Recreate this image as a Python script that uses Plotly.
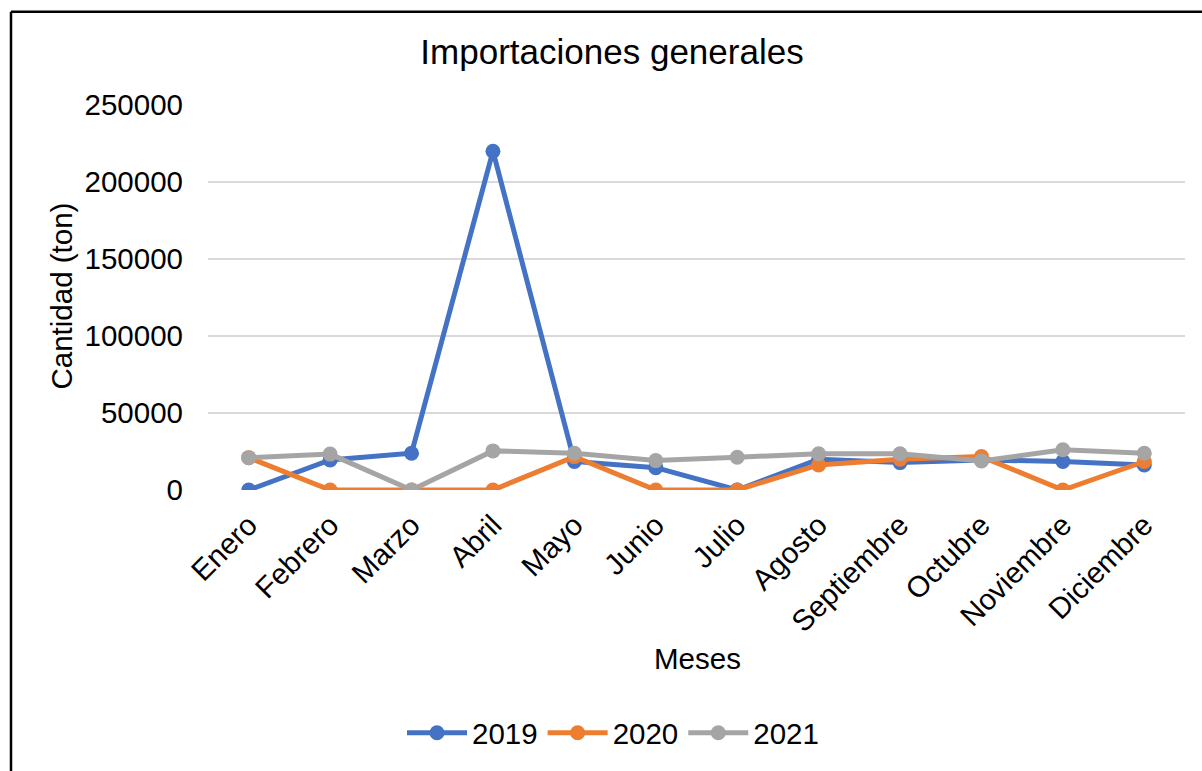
import plotly.graph_objects as go

# Monthly import volumes (tonnes)
meses = ["Enero", "Febrero", "Marzo", "Abril", "Mayo", "Junio", "Julio",
         "Agosto", "Septiembre", "Octubre", "Noviembre", "Diciembre"]
imp_2019 = [0, 19500, 23900, 220000, 18500, 14500, 0, 20000, 17800, 19500, 18500, 16300]
imp_2020 = [21000, 0, 0, 0, 21700, 0, 0, 16300, 20000, 21700, 0, 18500]
imp_2021 = [21000, 23300, 0, 25400, 23900, 19100, 21300, 23500, 23500, 18900, 26100, 23900]
y_ticks = [0, 50000, 100000, 150000, 200000, 250000]

series = [("2019", imp_2019, "#4472C4"),
          ("2020", imp_2020, "#ED7D31"),
          ("2021", imp_2021, "#A5A5A5")]

FONT = "Liberation Sans, Arial, sans-serif"
FS = 29.5
W, H = 1202, 771
L, R, T, B = 208, 17, 105, 278
PW, PH = W - L - R, H - T - B

fig = go.Figure()
for name, vals, color in series:
    fig.add_trace(go.Scatter(
        x=meses, y=vals, name=name, mode="lines+markers",
        line=dict(color=color, width=5),
        marker=dict(color=color, size=15),
    ))

fig.update_layout(
    width=W, height=H,
    margin=dict(l=L, r=R, t=T, b=B),
    paper_bgcolor="white", plot_bgcolor="white",
    font=dict(family=FONT, size=FS, color="#000000"),
    title=dict(text="Importaciones generales", x=612 / W, xanchor="center",
               y=1 - 52 / H, yanchor="middle",
               font=dict(family=FONT, size=35, color="#000000")),
    showlegend=True,
    legend=dict(orientation="h", x=(613 - L) / PW, xanchor="center",
                y=(T + PH - 738) / PH, yanchor="middle",
                font=dict(size=FS), itemwidth=60, tracegroupgap=0),
    xaxis=dict(type="category", tickangle=-45, showgrid=False,
               showline=False, ticks="", tickfont=dict(size=FS),
               ticklabelstandoff=11,
               range=[-0.5, len(meses) - 0.5]),
    yaxis=dict(range=[0, 250000], tickvals=y_ticks,
               ticktext=[str(v) for v in y_ticks],
               showgrid=True, gridcolor="#D9D9D9", gridwidth=1.5,
               zeroline=False, showline=False, ticks="",
               ticklabelstandoff=24,
               tickfont=dict(size=FS)),
    annotations=[
        dict(text="Meses", xref="paper", yref="paper",
             x=(697 - L) / PW, y=(T + PH - 663) / PH,
             xanchor="center", yanchor="middle", showarrow=False,
             font=dict(size=FS)),
        dict(text="Cantidad (ton)", xref="paper", yref="paper",
             x=(62 - L) / PW, y=(T + PH - 298) / PH, textangle=-90,
             xanchor="center", yanchor="middle", showarrow=False,
             font=dict(size=FS)),
    ],
    shapes=[
        dict(type="line", xref="paper", yref="paper",
             x0=(11 - L) / PW, x1=(11 - L) / PW,
             y0=(T + PH - 11) / PH, y1=(T + PH - H - 10) / PH,
             line=dict(color="#000000", width=2.5)),
        dict(type="line", xref="paper", yref="paper",
             x0=(11 - L) / PW, x1=(W + 10 - L) / PW,
             y0=(T + PH - 11) / PH, y1=(T + PH - 11) / PH,
             line=dict(color="#000000", width=2.5)),
    ],
)

fig.write_html("out.html")
